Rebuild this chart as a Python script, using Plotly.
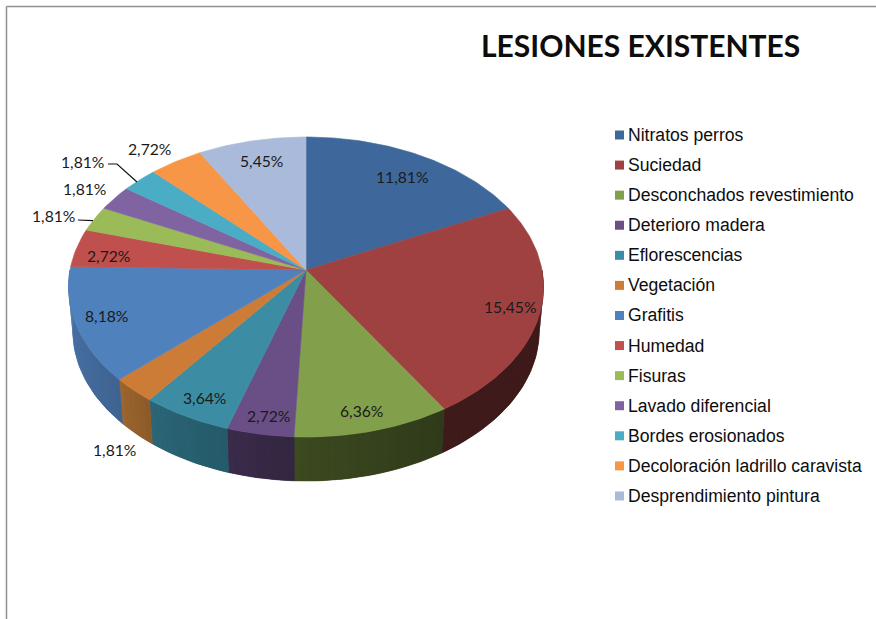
import math
import plotly.graph_objects as go

# ---- data ----
categories = ["Nitratos perros", "Suciedad", "Desconchados revestimiento", "Deterioro madera",
              "Eflorescencias", "Vegetación", "Grafitis", "Humedad", "Fisuras",
              "Lavado diferencial", "Bordes erosionados", "Decoloración ladrillo caravista",
              "Desprendimiento pintura"]
values = [11.81, 15.45, 6.36, 2.72, 3.64, 1.81, 8.18, 2.72, 1.81, 1.81, 1.81, 2.72, 5.45]
title_text = "LESIONES EXISTENTES"

# ---- styles ----
top_colors = ["#3e689c", "#9f4140", "#82a04b", "#694f86", "#3c8da4", "#cd7c38", "#4f81bd",
              "#c0504d", "#9bbb59", "#8064a2", "#4bacc6", "#f79646", "#aabada"]
wall_start = ["#2c4a70", "#3f1a1a", "#2f3a1a", "#32263f", "#245a68", "#8b5a2a", "#3f6391",
              "#c0504d", "#9bbb59", "#8064a2", "#4bacc6", "#f79646", "#aabada"]
wall_end = ["#3f1a1a", "#3f1a1a", "#3c4a20", "#3b2b4b", "#2b6577", "#9d652f", "#4b77ab",
            "#c0504d", "#9bbb59", "#8064a2", "#4bacc6", "#f79646", "#aabada"]
label_xy = [(402, 177), (510, 307), (361, 411), (268, 416), (204, 398), (114, 450), (106, 316),
            (108, 256), (53, 216), (84, 189), (82, 162), (149, 149), (261, 161)]
label_font = "Lato"
legend_font = "Liberation Sans, Arial, sans-serif"

# perspective projection of the pie disc onto the page
CX, K, C, A, B = 306.0, 236.0, 0.1133, -117.5, 270.0
DEPTH, SHRINK = 44.0, 0.982


def project(theta):
    u, v = math.sin(theta), math.cos(theta)
    d = C * v + 1
    return CX + K * u / d, (A * v + B) / d


def project_bottom(theta):
    x, y = project(theta)
    return CX + (x - CX) * SHRINK, y + DEPTH


def hex_mix(c1, c2, t):
    a = [int(c1[i:i + 2], 16) for i in (1, 3, 5)]
    b = [int(c2[i:i + 2], 16) for i in (1, 3, 5)]
    return "#%02x%02x%02x" % tuple(round(p + (q - p) * t) for p, q in zip(a, b))


total = sum(values)
angles = [0.0]
for val in values:
    angles.append(angles[-1] + val / total * 2 * math.pi)

fig = go.Figure()


def poly(xs, ys, color, name=None, lw=0.6):
    fig.add_trace(go.Scatter(x=xs, y=ys, mode="lines", fill="toself", fillcolor=color,
                             line=dict(color=color, width=lw), hoverinfo="skip" if name is None else "text",
                             text=name, showlegend=False))


# side wall, front half only, split into strips for the shading
for i, val in enumerate(values):
    a0, a1 = max(angles[i], math.pi / 2), min(angles[i + 1], 3 * math.pi / 2)
    if a1 <= a0:
        continue
    n = max(4, int((a1 - a0) / math.radians(1.5)))
    steps = [a0 + (a1 - a0) * j / n for j in range(n + 1)]
    top = [project(t) for t in steps]
    bot = [project_bottom(t) for t in reversed(steps)]
    ring = top + bot + [top[0]]
    poly([q[0] for q in ring], [q[1] for q in ring], hex_mix(wall_start[i], wall_end[i], 0.5))
    for j in range(n):
        t0, t1 = steps[j], steps[j + 1]
        p = [project(t0), project(t1), project_bottom(t1), project_bottom(t0)]
        poly([q[0] for q in p] + [p[0][0]], [q[1] for q in p] + [p[0][1]],
             hex_mix(wall_start[i], wall_end[i], (j + 0.5) / n), lw=0)

# top face
for i, cat in enumerate(categories):
    n = max(3, int((angles[i + 1] - angles[i]) / math.radians(1)))
    arc = [project(angles[i] + (angles[i + 1] - angles[i]) * j / n) for j in range(n + 1)]
    apex = (CX, B)
    xs = [apex[0]] + [q[0] for q in arc] + [apex[0]]
    ys = [apex[1]] + [q[1] for q in arc] + [apex[1]]
    poly(xs, ys, top_colors[i], f"{cat}: {str(values[i]).replace('.', ',')}%")

# legend
leg_y = [135 + 30.08 * i for i in range(len(categories))]
fig.add_trace(go.Scatter(x=[619.5] * len(categories), y=leg_y, mode="markers",
                         marker=dict(symbol="square", size=9, color=top_colors, line=dict(width=0)),
                         hoverinfo="skip", showlegend=False))

annotations = []
for cat, y in zip(categories, leg_y):
    annotations.append(dict(x=625.5, y=y, text=cat, xref="x", yref="y", xanchor="left", yanchor="middle",
                            showarrow=False, font=dict(family=legend_font, size=17.6, color="#0d0d0d")))
for val, (x, y) in zip(values, label_xy):
    annotations.append(dict(x=x, y=y, text=f"{val:.2f}%".replace(".", ","), xref="x", yref="y",
                            xanchor="center", yanchor="middle", showarrow=False,
                            font=dict(family=label_font, size=15.7, color="#1a1a1a")))
annotations.append(dict(x=640.5, y=44.5, text=f"<b>{title_text}</b>", xref="x", yref="y", xanchor="center",
                        yanchor="middle", showarrow=False, font=dict(family="Lato", size=30, color="#0d0d0d")))

# frame and leader lines
shapes = [
    dict(type="line", x0=6.5, y0=6.5, x1=876, y1=6.5, line=dict(color="#8f8f8f", width=1.5)),
    dict(type="line", x0=6.5, y0=6.5, x1=6.5, y1=619, line=dict(color="#8f8f8f", width=1.5)),
    dict(type="path", path="M108,164 L117,164 L137,182", line=dict(color="#111111", width=1.2)),
    dict(type="line", x0=78, y0=220, x1=93, y1=220.6, line=dict(color="#111111", width=1.2)),
]

fig.update_layout(
    width=876, height=619, autosize=False,
    margin=dict(l=0, r=0, t=0, b=0),
    paper_bgcolor="white", plot_bgcolor="white",
    xaxis=dict(range=[0, 876], visible=False, fixedrange=True),
    yaxis=dict(range=[619, 0], visible=False, fixedrange=True),
    annotations=annotations, shapes=shapes,
)
fig.write_html("out.html", config={"displayModeBar": False},
               post_script="document.body.style.margin='0';document.documentElement.style.overflow='hidden';")
